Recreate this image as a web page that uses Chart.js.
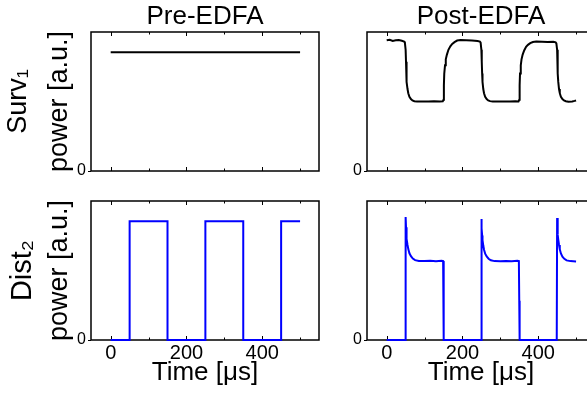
<!DOCTYPE html>
<html>
<head>
<meta charset="utf-8">
<script src="https://cdn.jsdelivr.net/npm/chart.js@4.4.0/dist/chart.umd.min.js"></script>
<style>
  html, body { margin: 0; padding: 0; background: #fff; overflow: hidden; }
  #wrap { position: relative; width: 587px; height: 395px; overflow: hidden; }
  canvas { position: absolute; }
</style>
</head>
<body>
<div id="wrap">
  <canvas id="preSurv" width="336" height="186" style="left:0;top:0"></canvas>
  <canvas id="postSurv" width="280" height="186" style="left:336px;top:0"></canvas>
  <canvas id="preDist" width="336" height="209" style="left:0;top:186px"></canvas>
  <canvas id="postDist" width="280" height="209" style="left:336px;top:186px"></canvas>
</div>
<script>
// time in microseconds, power in a.u. (pre-EDFA level = 1)
const preSurvTime = [0, 500];
const preSurvPower = [1.0, 1.0];

const preDistTime = [0, 50, 50, 150, 150, 250, 250, 350, 350, 450, 450, 500];
const preDistPower = [0, 0, 1, 1, 0, 0, 1, 1, 0, 0, 1, 1];

const postSurvTime = [
  0, 8, 16, 24, 32, 40, 46, 48,
  50, 51, 52, 53, 55, 57, 60, 64, 68, 73, 80, 95, 110, 125, 140, 148,
  150, 151, 152, 154, 156, 159, 163, 168, 173, 179, 186, 195, 210, 225, 240, 246, 248,
  250, 251, 252, 253, 255, 257, 260, 264, 268, 273, 280, 295, 310, 325, 340, 348,
  350, 351, 352, 354, 356, 359, 363, 368, 373, 379, 386, 395, 410, 425, 440, 446, 448,
  450, 451, 452, 453, 455, 457, 460, 464, 468, 473, 480, 490, 496, 500
];
const postSurvPower = [
  1.1, 1.105, 1.095, 1.1, 1.102, 1.096, 1.09, 1.08,
  1.02, 0.92, 0.82, 0.75, 0.69, 0.655, 0.625, 0.605, 0.594, 0.587, 0.585, 0.586, 0.584, 0.587, 0.585, 0.586,
  0.6, 0.72, 0.82, 0.89, 0.94, 0.98, 1.02, 1.05, 1.07, 1.085, 1.098, 1.102, 1.1, 1.098, 1.095, 1.09, 1.08,
  1.02, 0.92, 0.82, 0.75, 0.69, 0.655, 0.625, 0.605, 0.594, 0.588, 0.585, 0.584, 0.586, 0.585, 0.587, 0.586,
  0.6, 0.72, 0.82, 0.89, 0.94, 0.98, 1.015, 1.045, 1.062, 1.076, 1.086, 1.09, 1.088, 1.086, 1.088, 1.083, 1.074,
  1.02, 0.92, 0.82, 0.75, 0.69, 0.655, 0.625, 0.605, 0.594, 0.587, 0.583, 0.585, 0.59, 0.594
];

const postDistTime = [
  0, 49,
  50, 51, 52, 53, 55, 57, 60, 64, 69, 75, 85, 100, 115, 130, 145, 149, 150, 151,
  249, 250, 251, 252, 253, 255, 257, 260, 264, 269, 275, 285, 300, 315, 330, 345, 349, 350, 351,
  449, 450, 451, 452, 453, 455, 457, 460, 464, 469, 475, 485, 500
];
const postDistPower = [
  0, 0,
  1.035, 0.95, 0.89, 0.85, 0.8, 0.765, 0.73, 0.705, 0.685, 0.672, 0.665, 0.664, 0.667, 0.663, 0.667, 0.665, 0.33, 0,
  0, 1.018, 0.94, 0.88, 0.84, 0.795, 0.76, 0.727, 0.703, 0.684, 0.671, 0.664, 0.662, 0.665, 0.663, 0.666, 0.664, 0.33, 0,
  0, 1.027, 0.945, 0.885, 0.845, 0.8, 0.763, 0.728, 0.702, 0.683, 0.67, 0.664, 0.661
];

const xTickLabels = [0, 200, 400];
const xMinorTicks = [100, 300, 500];
const yTickLabels = [0];
const columnTitles = ["Pre-EDFA", "Post-EDFA"];
const rowLabels = ["Surv\u2081", "Dist\u2082"];
const yTitle = "power [a.u.]";
const xTitle = "Time [\u03bcs]";

const X_MIN = -52, X_MAX = 550, Y_MAX = 1.17;

Chart.defaults.font.family = "'Liberation Sans', Arial, sans-serif";
Chart.defaults.color = "#000";

// box round the plot area plus the little inward ticks on top and bottom
const framePlugin = {
  id: "frame",
  beforeDatasetsDraw(chart) {
    const { ctx, chartArea: a } = chart;
    const x = chart.scales.x;
    ctx.save();
    ctx.strokeStyle = "#000";
    ctx.lineWidth = 1.5;
    ctx.strokeRect(a.left, a.top, a.right - a.left, a.bottom - a.top);
    ctx.lineWidth = 1;
    ctx.beginPath();
    const tick = (v, len) => {
      const px = Math.round(x.getPixelForValue(v)) + 0.5;
      ctx.moveTo(px, a.top);
      ctx.lineTo(px, a.top + len);
      ctx.moveTo(px, a.bottom);
      ctx.lineTo(px, a.bottom - len);
    };
    xTickLabels.forEach((v) => tick(v, 4));
    xMinorTicks.forEach((v) => tick(v, 2.5));
    ctx.stroke();
    ctx.restore();
  },
};

const drawPanel = (id, time, power, o) => {
  const scales = {
    x: {
      type: "linear", position: "bottom", min: X_MIN, max: X_MAX,
      grid: { display: false, drawTicks: false },
      border: { display: false },
      afterBuildTicks: (s) => { s.ticks = xTickLabels.map((v) => ({ value: v })); },
      ticks: { display: o.showTime, font: { size: 20 }, padding: 1 },
      title: { display: o.showTime, text: xTitle, font: { size: 26 }, padding: { top: 0, bottom: 6.4 } },
      afterFit: (s) => { s.height = o.bottomH; },
    },
    xt: {
      type: "linear", position: "top", min: X_MIN, max: X_MAX,
      grid: { display: false, drawTicks: false },
      border: { display: false },
      ticks: { display: false },
      title: { display: !!o.title, text: o.title || "", font: { size: 26 }, padding: { top: 1.4, bottom: 0 } },
      afterFit: (s) => { s.height = o.topH; },
    },
    y: {
      type: "linear", position: "left", min: 0, max: Y_MAX,
      grid: { display: true, drawOnChartArea: false, drawTicks: true, tickLength: 3, color: "#000", lineWidth: 1 },
      border: { display: false },
      afterBuildTicks: (s) => { s.ticks = yTickLabels.map((v) => ({ value: v })); },
      ticks: { font: { size: 16 }, padding: 2 },
      title: { display: !!o.rowLabel, text: yTitle, font: { size: 27 }, padding: { top: 3.4, bottom: 0 } },
      afterFit: (s) => { s.width = o.yW; },
    },
  };
  if (o.rowLabel) {
    scales.yl = {
      type: "linear", position: "left", weight: 1,
      grid: { display: false, drawTicks: false },
      border: { display: false },
      ticks: { display: false },
      title: { display: true, text: o.rowLabel, font: { size: o.rowSize }, padding: { top: o.rowPad, bottom: 0 } },
      afterFit: (s) => { s.width = 40; },
    };
  }
  new Chart(document.getElementById(id), {
    type: "line",
    data: {
      datasets: [{
        data: time.map((t, i) => ({ x: t, y: power[i] })),
        borderColor: o.color,
        borderWidth: 2,
        pointRadius: 0,
        tension: 0,
        clip: 3,
      }],
    },
    options: {
      responsive: false,
      animation: false,
      devicePixelRatio: 1,
      layout: { padding: { left: 0, top: 0, bottom: 0, right: o.rightPad } },
      plugins: { legend: { display: false }, tooltip: { enabled: false } },
      scales,
    },
    plugins: [framePlugin],
  });
};

drawPanel("preSurv", preSurvTime, preSurvPower, {
  color: "#000", title: columnTitles[0], rowLabel: rowLabels[0], rowSize: 27, rowPad: 2.4,
  showTime: false, yW: 51, topH: 32, bottomH: 15, rightPad: 17,
});
drawPanel("postSurv", postSurvTime, postSurvPower, {
  color: "#000", title: columnTitles[1],
  showTime: false, yW: 31, topH: 32, bottomH: 15, rightPad: 21,
});
drawPanel("preDist", preDistTime, preDistPower, {
  color: "#0000ff", rowLabel: rowLabels[1], rowSize: 29, rowPad: 6,
  showTime: true, yW: 51, topH: 15, bottomH: 55, rightPad: 17,
});
drawPanel("postDist", postDistTime, postDistPower, {
  color: "#0000ff",
  showTime: true, yW: 31, topH: 15, bottomH: 55, rightPad: 21,
});
</script>
</body>
</html>
